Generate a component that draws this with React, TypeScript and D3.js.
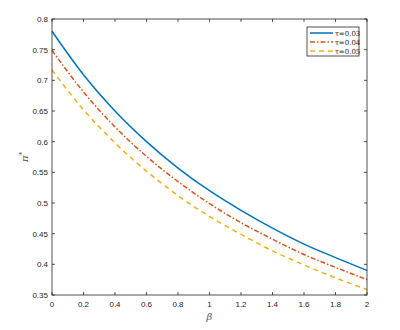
import React from 'react'
import * as d3 from 'd3'

// beta values along x
const betas = [0, 0.2, 0.4, 0.6, 0.8, 1.0, 1.2, 1.4, 1.6, 1.8, 2.0]
// pi* for each tau
const tau003 = [0.780, 0.709, 0.650, 0.600, 0.557, 0.520, 0.488, 0.459, 0.433, 0.411, 0.390]
const tau004 = [0.749, 0.681, 0.624, 0.576, 0.535, 0.499, 0.468, 0.441, 0.416, 0.395, 0.375]
const tau005 = [0.717, 0.652, 0.598, 0.552, 0.512, 0.478, 0.449, 0.422, 0.399, 0.378, 0.359]

const xTicks = [0, 0.2, 0.4, 0.6, 0.8, 1, 1.2, 1.4, 1.6, 1.8, 2]
const yTicks = [0.35, 0.4, 0.45, 0.5, 0.55, 0.6, 0.65, 0.7, 0.75, 0.8]
const seriesNames = ['τ=0.03', 'τ=0.04', 'τ=0.05']

const colors = ['#0072BD', '#D95319', '#EDB120']
const dashes = ['none', '5,2,1.5,2', '5,4']

const W = 400, H = 330
const left = 52, right = 367, top = 19, bottom = 295

export default function App() {
  const x = d3.scaleLinear().domain([0, 2]).range([left, right])
  const y = d3.scaleLinear().domain([0.35, 0.8]).range([bottom, top])
  const line = d3.line<number>()
    .x((_, i) => x(betas[i]))
    .y(d => y(d))
    .curve(d3.curveMonotoneX)

  const all = [tau003, tau004, tau005]
  const axisCol = '#262626'
  const font = 'Liberation Sans, Arial, sans-serif'

  return (
    <svg width={W} height={H} style={{ position: 'absolute', left: 0, top: 0, background: '#fff' }}>
      <rect x={0} y={0} width={W} height={H} fill="#fff" />
      {all.map((s, i) => (
        <path key={i} d={line(s) || ''} fill="none" stroke={colors[i]}
          strokeWidth={1.5} strokeDasharray={dashes[i]} />
      ))}
      {/* box */}
      <rect x={left} y={top} width={right - left} height={bottom - top}
        fill="none" stroke={axisCol} strokeWidth={0.8} />
      {xTicks.map(t => (
        <g key={'x' + t}>
          <line x1={x(t)} x2={x(t)} y1={bottom} y2={bottom - 3} stroke={axisCol} strokeWidth={0.8} />
          <line x1={x(t)} x2={x(t)} y1={top} y2={top + 3} stroke={axisCol} strokeWidth={0.8} />
          <text x={x(t)} y={bottom + 12} textAnchor="middle" fontSize={8}
            fontFamily={font} fill={axisCol}>{t}</text>
        </g>
      ))}
      {yTicks.map(t => (
        <g key={'y' + t}>
          <line x1={left} x2={left + 3} y1={y(t)} y2={y(t)} stroke={axisCol} strokeWidth={0.8} />
          <line x1={right} x2={right - 3} y1={y(t)} y2={y(t)} stroke={axisCol} strokeWidth={0.8} />
          <text x={left - 4} y={y(t) + 3} textAnchor="end" fontSize={8}
            fontFamily={font} fill={axisCol}>{t}</text>
        </g>
      ))}
      <text x={(left + right) / 2} y={bottom + 25} textAnchor="middle" fontSize={10}
        fontFamily="DejaVu Serif, serif" fontStyle="italic" fill="#555">β</text>
      <text transform={`translate(28,${(top + bottom) / 2}) rotate(-90)`} textAnchor="middle"
        fontSize={10} fontFamily="DejaVu Serif, serif" fontStyle="italic" fill="#555">
        π<tspan dy={-4} fontSize={7} fontStyle="normal">*</tspan>
      </text>
      {/* legend */}
      <rect x={307} y={27} width={52} height={29} fill="#fff" stroke={axisCol} strokeWidth={0.8} />
      {seriesNames.map((n, i) => (
        <g key={n}>
          <line x1={310} x2={333} y1={33 + i * 9} y2={33 + i * 9} stroke={colors[i]}
            strokeWidth={1.5} strokeDasharray={dashes[i]} />
          <text x={335} y={35.5 + i * 9} fontSize={7} fontFamily="DejaVu Serif, serif"
            fill={axisCol}>{n}</text>
        </g>
      ))}
    </svg>
  )
}
